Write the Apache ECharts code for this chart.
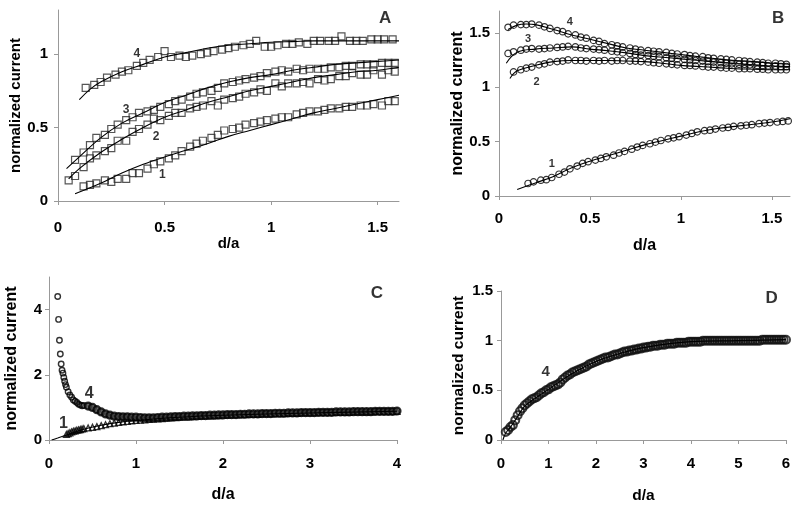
<!DOCTYPE html>
<html>
<head>
<meta charset="utf-8">
<script src="https://cdn.jsdelivr.net/npm/echarts@6/dist/echarts.min.js"></script>
<style>html,body{margin:0;padding:0;background:#fff;}#c{width:800px;height:505px;}</style>
</head>
<body>
<div id="c"></div>
<script>
// ---------- Panel A (open squares + fits) ----------
const aX = [0.05,0.08,0.12,0.15,0.18,0.22,0.25,0.28,0.32,0.35,0.38,0.42,0.45,0.48,0.52,0.55,0.58,0.62,0.65,0.68,0.72,0.75,0.78,0.82,0.85,0.88,0.92,0.95,0.98,1.02,1.05,1.08,1.12,1.15,1.18,1.22,1.25,1.28,1.32,1.35,1.38,1.42,1.45,1.48,1.52,1.55,1.58];
const a1Y = [0.10,0.11,0.12,0.14,0.13,0.15,0.15,0.19,0.19,0.22,0.25,0.27,0.29,0.31,0.34,0.37,0.39,0.41,0.43,0.45,0.48,0.49,0.50,0.52,0.53,0.54,0.55,0.56,0.57,0.57,0.59,0.60,0.61,0.61,0.62,0.63,0.63,0.64,0.64,0.65,0.65,0.66,0.65,0.68,0.68];
const a2Y = [0.14,0.17,0.23,0.29,0.31,0.34,0.36,0.41,0.41,0.47,0.49,0.52,0.56,0.55,0.58,0.60,0.60,0.63,0.64,0.65,0.68,0.65,0.69,0.70,0.71,0.73,0.74,0.76,0.75,0.80,0.78,0.80,0.80,0.81,0.80,0.83,0.82,0.83,0.85,0.85,0.87,0.86,0.86,0.89,0.86,0.89,0.88];
const a3Y = [0.28,0.33,0.38,0.43,0.45,0.49,0.52,0.55,0.57,0.60,0.61,0.62,0.64,0.66,0.68,0.69,0.71,0.73,0.74,0.75,0.77,0.80,0.81,0.82,0.83,0.84,0.85,0.87,0.88,0.89,0.88,0.90,0.89,0.90,0.90,0.90,0.91,0.91,0.92,0.92,0.93,0.93,0.93,0.94,0.94,0.94];
const a4X = [0.13,0.17,0.2,0.23,0.27,0.3,0.33,0.37,0.4,0.43,0.47,0.5,0.53,0.57,0.6,0.63,0.67,0.7,0.73,0.77,0.8,0.83,0.87,0.9,0.93,0.97,1.0,1.03,1.07,1.1,1.13,1.17,1.2,1.23,1.27,1.3,1.33,1.37,1.4,1.43,1.47,1.5,1.53,1.57];
const a4Y = [0.77,0.79,0.81,0.84,0.86,0.88,0.89,0.92,0.94,0.96,0.98,1.02,0.98,0.99,0.98,0.99,1.00,1.01,1.02,1.03,1.04,1.05,1.06,1.07,1.09,1.05,1.05,1.06,1.07,1.07,1.08,1.07,1.09,1.09,1.09,1.09,1.12,1.09,1.09,1.09,1.10,1.10,1.10,1.10];
const fitA1 = [[0.08,0.05],[0.15,0.09],[0.2,0.12],[0.3,0.19],[0.4,0.25],[0.5,0.30],[0.6,0.345],[0.7,0.39],[0.8,0.44],[0.9,0.48],[1.0,0.52],[1.1,0.56],[1.2,0.60],[1.3,0.63],[1.4,0.66],[1.5,0.69],[1.6,0.72]];
const fitA2 = [[0.05,0.15],[0.1,0.22],[0.2,0.33],[0.3,0.42],[0.4,0.50],[0.5,0.57],[0.6,0.62],[0.7,0.67],[0.8,0.71],[0.9,0.75],[1.0,0.78],[1.1,0.81],[1.2,0.84],[1.3,0.86],[1.4,0.88],[1.5,0.89],[1.6,0.91]];
const fitA3 = [[0.04,0.22],[0.1,0.30],[0.2,0.43],[0.3,0.53],[0.4,0.60],[0.5,0.67],[0.6,0.72],[0.7,0.77],[0.8,0.81],[0.9,0.84],[1.0,0.86],[1.1,0.89],[1.2,0.91],[1.3,0.93],[1.4,0.94],[1.5,0.95],[1.6,0.96]];
const fitA4 = [[0.1,0.69],[0.15,0.76],[0.2,0.81],[0.3,0.88],[0.4,0.93],[0.5,0.98],[0.6,1.01],[0.7,1.04],[0.8,1.06],[0.9,1.07],[1.0,1.08],[1.1,1.085],[1.2,1.09],[1.3,1.09],[1.4,1.09],[1.5,1.09],[1.6,1.09]];
const labelsA = [[0.37,1.0,'4'],[0.32,0.62,'3'],[0.46,0.435,'2'],[0.49,0.18,'1']];

// ---------- Panel B (open circles + fits) ----------
const b4Y = [1.55,1.57,1.575,1.575,1.58,1.57,1.555,1.54,1.52,1.51,1.49,1.48,1.46,1.45,1.43,1.42,1.40,1.39,1.38,1.37,1.36,1.35,1.34,1.335,1.33,1.325,1.32,1.31,1.305,1.30,1.29,1.285,1.28,1.27,1.265,1.26,1.255,1.25,1.245,1.24,1.235,1.23,1.225,1.22,1.22,1.215,1.21];
const b3Y = [1.31,1.325,1.34,1.35,1.355,1.35,1.355,1.36,1.365,1.37,1.375,1.37,1.36,1.355,1.35,1.345,1.34,1.33,1.325,1.315,1.31,1.30,1.295,1.29,1.285,1.28,1.27,1.265,1.26,1.255,1.25,1.245,1.24,1.235,1.23,1.225,1.22,1.215,1.21,1.21,1.205,1.20,1.20,1.195,1.195,1.19,1.19];
const b2Y = [1.14,1.16,1.175,1.185,1.205,1.215,1.23,1.235,1.24,1.25,1.245,1.245,1.24,1.245,1.24,1.245,1.24,1.245,1.245,1.24,1.24,1.235,1.23,1.225,1.22,1.215,1.21,1.205,1.20,1.20,1.195,1.19,1.185,1.185,1.18,1.175,1.175,1.17,1.17,1.17,1.165,1.165,1.16,1.16,1.16,1.16];
const b1X = [0.16,0.19,0.23,0.26,0.29,0.33,0.36,0.39,0.43,0.46,0.49,0.53,0.56,0.59,0.63,0.66,0.69,0.73,0.76,0.79,0.83,0.86,0.89,0.93,0.96,0.99,1.03,1.06,1.09,1.13,1.16,1.19,1.23,1.26,1.29,1.33,1.36,1.39,1.43,1.46,1.49,1.53,1.56,1.59];
const b1Y = [0.115,0.13,0.145,0.15,0.17,0.20,0.22,0.25,0.275,0.30,0.315,0.33,0.345,0.36,0.375,0.395,0.41,0.43,0.45,0.465,0.48,0.495,0.51,0.525,0.535,0.545,0.56,0.575,0.59,0.60,0.605,0.615,0.625,0.63,0.64,0.645,0.65,0.655,0.665,0.67,0.675,0.68,0.685,0.69];
const fitB4 = [[0.05,1.53],[0.1,1.57],[0.15,1.58],[0.2,1.575],[0.3,1.53],[0.4,1.48],[0.5,1.44],[0.6,1.40],[0.7,1.36],[0.8,1.34],[0.9,1.32],[1.0,1.30],[1.1,1.28],[1.2,1.26],[1.3,1.245],[1.4,1.235],[1.5,1.22],[1.6,1.21]];
const fitB3 = [[0.04,1.22],[0.1,1.32],[0.2,1.35],[0.3,1.36],[0.4,1.37],[0.5,1.35],[0.6,1.335],[0.7,1.315],[0.8,1.29],[0.9,1.275],[1.0,1.26],[1.1,1.245],[1.2,1.23],[1.3,1.215],[1.4,1.205],[1.5,1.195],[1.6,1.19]];
const fitB2 = [[0.06,1.08],[0.1,1.15],[0.2,1.20],[0.3,1.235],[0.4,1.245],[0.5,1.245],[0.6,1.245],[0.7,1.24],[0.8,1.235],[0.9,1.22],[1.0,1.20],[1.1,1.19],[1.2,1.18],[1.3,1.17],[1.4,1.165],[1.5,1.16],[1.6,1.16]];
const fitB1 = [[0.1,0.06],[0.2,0.12],[0.3,0.18],[0.4,0.26],[0.5,0.32],[0.6,0.37],[0.7,0.42],[0.8,0.47],[0.9,0.51],[1.0,0.55],[1.1,0.59],[1.2,0.62],[1.3,0.64],[1.4,0.66],[1.5,0.68],[1.6,0.71]];
const labelsB = [[0.39,1.60,'4'],[0.16,1.447,'3'],[0.207,1.049,'2'],[0.29,0.294,'1']];

// ---------- Panel C (curve 4 circles, curve 1 triangles) ----------
const c4Head = [[0.10,4.40],[0.11,3.70],[0.12,3.06],[0.13,2.64],[0.14,2.33],[0.15,2.14],[0.16,2.05],[0.17,1.92],[0.18,1.80],[0.19,1.70],[0.20,1.62],[0.22,1.48],[0.24,1.38],[0.26,1.31],[0.28,1.23],[0.30,1.19],[0.32,1.15],[0.34,1.10],[0.36,1.07],[0.38,1.05],[0.40,1.06]];
const c4Tail = [[0.45,1.04],[0.5,1.0],[0.55,0.93],[0.6,0.86],[0.65,0.80],[0.7,0.76],[0.75,0.73],[0.8,0.72],[0.85,0.71],[0.9,0.71],[0.95,0.70],[1.0,0.70],[1.05,0.69],[1.1,0.68],[1.15,0.68],[1.2,0.68],[1.25,0.69],[1.3,0.70],[1.35,0.70],[1.4,0.71],[1.45,0.72],[1.5,0.72],[1.55,0.73],[1.6,0.73],[1.65,0.74],[1.7,0.74],[1.75,0.75],[1.8,0.75],[1.85,0.76],[1.9,0.76],[1.95,0.77],[2.0,0.77],[2.05,0.78],[2.1,0.78],[2.15,0.78],[2.2,0.79],[2.25,0.79],[2.3,0.80],[2.35,0.80],[2.4,0.80],[2.45,0.81],[2.5,0.81],[2.55,0.81],[2.6,0.82],[2.65,0.82],[2.7,0.82],[2.75,0.83],[2.8,0.83],[2.85,0.83],[2.9,0.84],[2.95,0.84],[3.0,0.84],[3.05,0.84],[3.1,0.85],[3.15,0.85],[3.2,0.85],[3.25,0.85],[3.3,0.86],[3.35,0.86],[3.4,0.86],[3.45,0.86],[3.5,0.87],[3.55,0.87],[3.6,0.87],[3.65,0.87],[3.7,0.87],[3.75,0.88],[3.8,0.88],[3.85,0.88],[3.9,0.88],[3.95,0.88],[4.0,0.89]];
const c1 = [[0.20,0.17],[0.22,0.20],[0.24,0.22],[0.26,0.25],[0.28,0.27],[0.30,0.28],[0.32,0.30],[0.34,0.31],[0.36,0.32],[0.38,0.34],[0.40,0.35],
[0.45,0.37],[0.5,0.39],[0.55,0.41],[0.6,0.44],[0.65,0.47],[0.7,0.50],[0.75,0.52],[0.8,0.54],[0.85,0.56],[0.9,0.57],[0.95,0.59],[1.0,0.60],[1.05,0.61],[1.1,0.62],[1.15,0.63],[1.2,0.64],[1.25,0.65],[1.3,0.66],[1.35,0.67],[1.4,0.68],[1.45,0.69],[1.5,0.70],[1.55,0.71],[1.6,0.71],[1.65,0.72],[1.7,0.73],[1.75,0.73],[1.8,0.74],[1.85,0.74],[1.9,0.75],[1.95,0.75],[2.0,0.76],[2.05,0.76],[2.1,0.77],[2.15,0.77],[2.2,0.78],[2.25,0.78],[2.3,0.79],[2.35,0.79],[2.4,0.79],[2.45,0.80],[2.5,0.80],[2.55,0.80],[2.6,0.81],[2.65,0.81],[2.7,0.81],[2.75,0.82],[2.8,0.82],[2.85,0.82],[2.9,0.83],[2.95,0.83],[3.0,0.83],[3.05,0.83],[3.1,0.84],[3.15,0.84],[3.2,0.84],[3.25,0.84],[3.3,0.85],[3.35,0.85],[3.4,0.85],[3.45,0.85],[3.5,0.86],[3.55,0.86],[3.6,0.86],[3.65,0.86],[3.7,0.86],[3.75,0.87],[3.8,0.87],[3.85,0.87],[3.9,0.87],[3.95,0.87],[4.0,0.88]];
const fitC1 = [[0.03,0.0],[0.1,0.06],[0.2,0.15],[0.4,0.33],[0.6,0.45],[0.8,0.54],[1.0,0.60],[1.5,0.70],[2.0,0.76],[3.0,0.83],[4.0,0.88]];
const labelsC = [[0.463,1.41,'4'],[0.165,0.49,'1']];

// ---------- Panel D (curve 4) ----------
const d4 = [[0.10,0.08],[0.15,0.10],[0.20,0.13],[0.25,0.15],[0.30,0.20],[0.35,0.25],[0.40,0.29],[0.45,0.32],[0.50,0.35],[0.55,0.37],[0.60,0.39],[0.65,0.41],[0.70,0.42],[0.75,0.43],[0.80,0.45],[0.85,0.47],[0.90,0.48],[0.95,0.50],[1.00,0.51],[1.05,0.53],[1.10,0.54],[1.15,0.55],[1.20,0.56],[1.25,0.58],[1.30,0.61],[1.35,0.63],[1.40,0.65],[1.45,0.66],[1.50,0.68],[1.55,0.69],[1.60,0.70],[1.65,0.71],[1.70,0.72],[1.75,0.73],[1.80,0.74],[1.85,0.76],[1.90,0.77],[1.95,0.78],[2.00,0.79],[2.05,0.80],[2.10,0.81],[2.15,0.82],[2.20,0.83],[2.25,0.83],[2.30,0.84],[2.35,0.85],[2.40,0.86],[2.45,0.86],[2.50,0.87],[2.55,0.88],[2.60,0.89],[2.65,0.89],[2.70,0.90],[2.75,0.90],[2.80,0.91],[2.85,0.91],[2.90,0.92],[2.95,0.92],[3.00,0.93],[3.05,0.93],[3.10,0.94],[3.15,0.94],[3.20,0.95],[3.25,0.95],[3.30,0.95],[3.35,0.96],[3.40,0.96],[3.45,0.96],[3.50,0.97],[3.55,0.97],[3.60,0.97],[3.65,0.97],[3.70,0.98],[3.75,0.98],[3.80,0.98],[3.85,0.98],[3.90,0.98],[3.95,0.99],[4.00,0.99],[4.05,0.99],[4.10,0.99],[4.15,0.99],[4.20,0.99],[4.25,1.00],[4.30,1.00],[4.35,1.00],[4.40,1.00],[4.45,1.00],[4.50,1.00],[4.55,1.00],[4.60,1.00],[4.65,1.00],[4.70,1.00],[4.75,1.00],[4.80,1.00],[4.85,1.00],[4.90,1.00],[4.95,1.00],[5.00,1.00],[5.05,1.00],[5.10,1.00],[5.15,1.00],[5.20,1.00],[5.25,1.00],[5.30,1.00],[5.35,1.00],[5.40,1.00],[5.45,1.00],[5.50,1.01],[5.55,1.01],[5.60,1.01],[5.65,1.01],[5.70,1.01],[5.75,1.01],[5.80,1.01],[5.85,1.01],[5.90,1.01],[5.95,1.01],[6.00,1.01]];
const fitD4 = [[0.04,0.0],[0.1,0.07],[0.2,0.13],[0.3,0.2],[0.5,0.34],[0.75,0.43],[1.0,0.51],[1.5,0.67],[2.0,0.79],[2.5,0.87],[3.0,0.93],[4.0,0.99],[5.0,1.0],[6.0,1.01]];
const labelsD = [[0.94,0.683,'4']];

// panel letters
const panelLetters = [
  {grid: 0, pos: [1.535, 1.243], text: 'A'},
  {grid: 1, pos: [1.535, 1.63], text: 'B'},
  {grid: 2, pos: [3.77, 4.5], text: 'C'},
  {grid: 3, pos: [5.7, 1.43], text: 'D'}
];

// tick values
const ticksAx = [0, 0.5, 1, 1.5], ticksAy = [0, 0.5, 1];
const ticksBx = [0, 0.5, 1, 1.5], ticksBy = [0, 0.5, 1, 1.5];
const ticksCx = [0, 1, 2, 3, 4], ticksCy = [0, 2, 4];
const ticksDx = [0, 1, 2, 3, 4, 5, 6], ticksDy = [0, 0.5, 1, 1.5];

// ---------- build ----------
const FONT = 'Liberation Sans, Arial, sans-serif';
const AX = '#999';
const zip = (xs, ys) => ys.map((y, i) => [xs[i], y]);

function xAxis(gi, max, ticks, margin, gap, nameSize) {
  return {
    gridIndex: gi, type: 'value', min: 0, max: max,
    name: 'd/a', nameLocation: 'middle', nameGap: gap,
    nameTextStyle: {fontFamily: FONT, fontWeight: 'bold', fontSize: nameSize, color: '#000'},
    axisLine: {show: true, onZero: false, lineStyle: {color: AX, width: 1}},
    axisTick: {show: true, length: 4, lineStyle: {color: AX}, customValues: ticks},
    axisLabel: {customValues: ticks, margin: margin, fontFamily: FONT, fontWeight: 'bold', fontSize: 15, color: '#000'},
    splitLine: {show: false}
  };
}
function yAxis(gi, max, ticks, margin, gap, nameSize) {
  return {
    gridIndex: gi, type: 'value', min: 0, max: max,
    name: 'normalized current', nameLocation: 'middle', nameGap: gap, nameRotate: 90,
    nameTextStyle: {fontFamily: FONT, fontWeight: 'bold', fontSize: nameSize, color: '#000'},
    axisLine: {show: true, onZero: false, lineStyle: {color: AX, width: 1}},
    axisTick: {show: true, length: 4, lineStyle: {color: AX}, customValues: ticks},
    axisLabel: {customValues: ticks, margin: margin, fontFamily: FONT, fontWeight: 'bold', fontSize: 15, color: '#000'},
    splitLine: {show: false}
  };
}
function marks(gi, data, symbol, size, bw, color, fill) {
  return {
    type: 'scatter', xAxisIndex: gi, yAxisIndex: gi, data: data, symbol: symbol, symbolSize: size,
    itemStyle: {color: fill || 'rgba(255,255,255,0)', borderColor: color || '#222', borderWidth: bw},
    silent: true, z: 2
  };
}
function fit(gi, data) {
  return {
    type: 'line', xAxisIndex: gi, yAxisIndex: gi, data: data, showSymbol: false, smooth: 0.4,
    lineStyle: {color: '#000', width: 1.1}, silent: true, z: 3
  };
}
function labels(gi, data, size) {
  return {
    type: 'scatter', xAxisIndex: gi, yAxisIndex: gi, data: data, symbolSize: 1,
    itemStyle: {color: 'rgba(0,0,0,0)'}, silent: true, z: 5,
    label: {show: true, position: 'inside', formatter: p => p.data[2],
      fontFamily: FONT, fontWeight: 'bold', fontSize: size, color: '#000'}
  };
}

const series = [
  marks(0, zip(aX.slice(2), a1Y), 'rect', 7, 1.2, '#2a2a2a'),
  marks(0, zip(aX, a2Y), 'rect', 7, 1.2, '#2a2a2a'),
  marks(0, zip(aX.slice(1), a3Y), 'rect', 7, 1.2, '#2a2a2a'),
  marks(0, zip(a4X, a4Y), 'rect', 7, 1.2, '#2a2a2a'),
  fit(0, fitA1), fit(0, fitA2), fit(0, fitA3), fit(0, fitA4),
  labels(0, labelsA, 12),

  marks(1, zip(aX, b4Y), 'circle', 6.5, 1.2, '#000'),
  marks(1, zip(aX, b3Y), 'circle', 6.5, 1.2, '#000'),
  marks(1, zip(aX.slice(1), b2Y), 'circle', 6.5, 1.2, '#000'),
  marks(1, zip(b1X, b1Y), 'circle', 6.5, 1.2, '#000'),
  fit(1, fitB4), fit(1, fitB3), fit(1, fitB2), fit(1, fitB1),
  labels(1, labelsB, 11),

  marks(2, c1, 'triangle', 6, 1.3, '#000'),
  marks(2, c4Head, 'circle', 5.5, 1.4, '#000'),
  marks(2, c4Tail, 'circle', 7, 2.2, '#000', '#444'),
  fit(2, fitC1),
  labels(2, labelsC, 16),

  fit(3, fitD4),
  marks(3, d4, 'circle', 8, 2, '#111'),
  labels(3, labelsD, 15)
];
panelLetters.forEach(p => series.push(labels(p.grid, [[p.pos[0], p.pos[1], p.text]], 17)));

const option = {
  animation: false,
  backgroundColor: '#fff',
  grid: [
    {left: 58, top: 10, width: 341, height: 191},
    {left: 499, top: 11, width: 291, height: 185},
    {left: 49, top: 277, width: 348, height: 163},
    {left: 501, top: 291, width: 285, height: 150}
  ],
  xAxis: [
    xAxis(0, 1.6, ticksAx, 19, 34, 15),
    xAxis(1, 1.6, ticksBx, 15, 42, 16),
    xAxis(2, 4, ticksCx, 16, 47, 16),
    xAxis(3, 6, ticksDx, 16, 48, 15.5)
  ],
  yAxis: [
    yAxis(0, 1.3, ticksAy, 10, 34, 15),
    yAxis(1, 1.7, ticksBy, 9, 32, 16),
    yAxis(2, 5, ticksCy, 7, 29, 16),
    yAxis(3, 1.5, ticksDy, 8, 34, 15.5)
  ],
  series: series
};
const chart = echarts.init(document.getElementById('c'), null, {renderer: 'canvas'});
chart.setOption(option);
</script>
</body>
</html>
